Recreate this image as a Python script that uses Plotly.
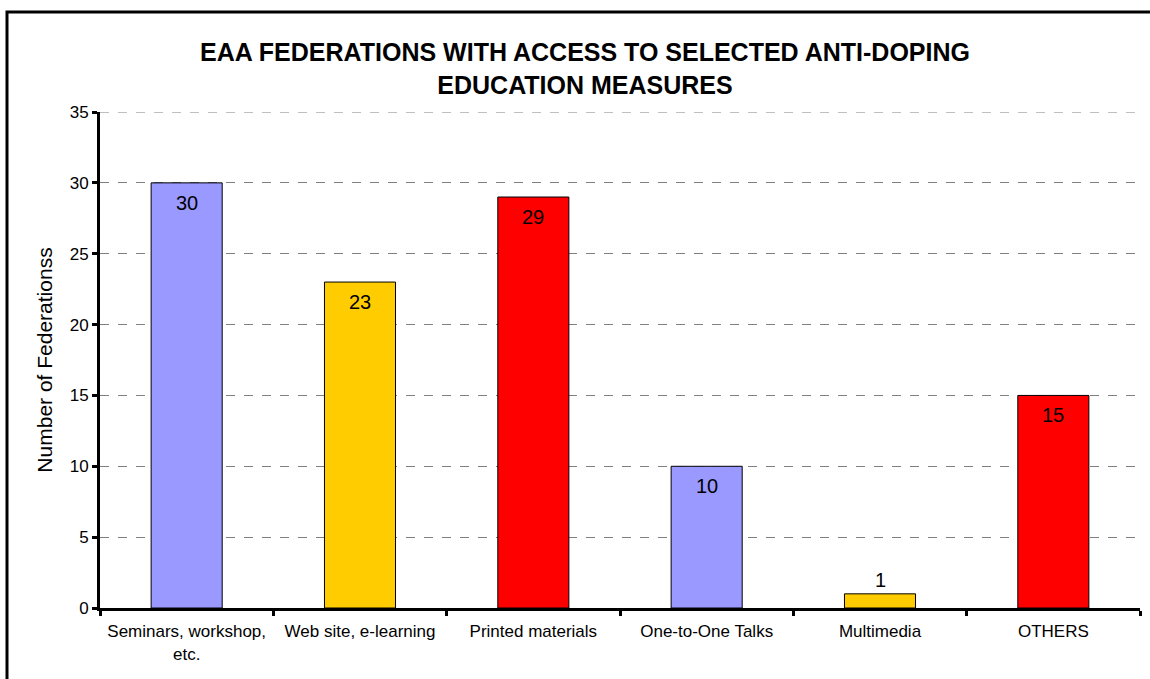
import plotly.graph_objects as go

categories = ["Seminars, workshop,<br>etc.", "Web site, e-learning", "Printed materials",
              "One-to-One Talks", "Multimedia", "OTHERS"]
values = [30, 23, 29, 10, 1, 15]
colors = ["#9999FF", "#FFCC00", "#FF0000", "#9999FF", "#FFCC00", "#FF0000"]
label_inside = [True, True, True, True, False, True]
y_max = 35

W, H = 1150, 679
L, R, T, B = 100, 10, 112, 71
pw, ph = W - L - R, H - T - B
FONT = "Liberation Sans, Arial"

fig = go.Figure(go.Bar(
    x=categories, y=values,
    marker=dict(color=colors, line=dict(color="black", width=1)),
    width=0.41,
    hoverinfo="x+y",
    cliponaxis=False,
))

annotations = []
for c, v, inside in zip(categories, values, label_inside):
    annotations.append(dict(
        x=c, y=v, xref="x", yref="y", text=str(v), showarrow=False,
        yanchor="middle", yshift=-20 if inside else 14,
        font=dict(family=FONT, size=20, color="black"),
    ))

def px2x(p):
    return (p - L) / pw

def px2y(p):
    return (H - B - p) / ph

fig.update_layout(
    width=W, height=H,
    margin=dict(l=L, r=R, t=T, b=B),
    paper_bgcolor="white", plot_bgcolor="white",
    font=dict(family=FONT, color="black"),
    showlegend=False,
    bargap=0.59,
    annotations=annotations,
    title=dict(
        text="<b>EAA FEDERATIONS WITH ACCESS TO SELECTED ANTI-DOPING<br>EDUCATION MEASURES</b>",
        x=585 / W, xanchor="center",
        y=1 - 61 / H, yanchor="middle",
        font=dict(size=25, family=FONT, color="black"),
    ),
    xaxis=dict(
        showline=True, linecolor="black", linewidth=3,
        ticks="outside", tickson="boundaries", ticklen=5, tickwidth=3, tickcolor="black",
        tickfont=dict(size=17, color="black"),
        ticklabelstandoff=6,
        showgrid=False,
    ),
    yaxis=dict(
        range=[0, y_max], tickvals=[0, 5, 10, 15, 20, 25, 30, 35],
        showline=True, linecolor="black", linewidth=3,
        ticks="outside", ticklen=5, tickwidth=3, tickcolor="black",
        tickfont=dict(size=17, color="black"),
        showgrid=True, gridcolor="#808080", gridwidth=1, griddash="dash",
        zeroline=False,
        title=dict(text="Number of Federationss", font=dict(size=21, color="black"), standoff=12),
    ),
    shapes=[
        dict(type="line", xref="paper", yref="y", x0=0, x1=1, y0=y_max, y1=y_max,
             line=dict(color="#808080", width=1, dash="dash"), layer="below"),
        dict(type="rect", xref="paper", yref="paper",
             x0=px2x(7), x1=px2x(1160), y0=px2y(700), y1=px2y(12),
             line=dict(color="black", width=3), fillcolor="rgba(0,0,0,0)", layer="above"),
    ],
)

fig.write_html("out.html")
